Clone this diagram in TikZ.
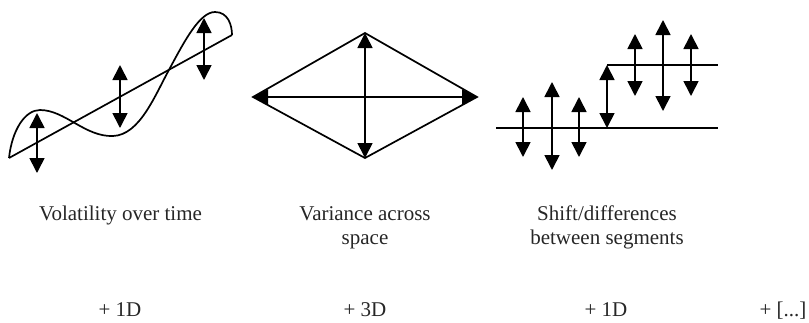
\documentclass[tikz,border=0pt]{standalone}
\usepackage{fontspec}
\setmainfont{Liberation Serif}
\usetikzlibrary{arrows.meta}

\begin{document}
\begin{tikzpicture}[
    x=1pt, y=-1pt,
    stroke/.style={draw=black, line width=1.7pt},
    spread/.style={stroke, {Triangle[length=15pt,width=15pt]}-{Triangle[length=15pt,width=15pt]}},
    lbl/.style={font=\fontsize{21}{23.3}\selectfont, text=black!85, anchor=base, align=center, inner sep=0pt},
  ]
  \useasboundingbox (0,0) rectangle (809,322);

  % ---- volatility over time: trend line, wave, spread round the trend
  \coordinate (trendA) at (9,158);
  \coordinate (trendB) at (232,35);
  \draw[stroke] (trendA) -- (trendB);
  \draw[stroke] (trendA) .. controls (12,130) and (25,110) .. (40,110)
    .. controls (65,110) and (85,137) .. (113,136)
    .. controls (140,135) and (155,95) .. (170,68)
    .. controls (185,40) and (200,12) .. (215,12)
    .. controls (228,12) and (232,25) .. (trendB);
  \foreach \i/\x/\t/\b in {1/37/113/173, 2/120/65/128, 3/204/18/80} {
    \coordinate (volUp\i) at (\x,\t);
    \coordinate (volDn\i) at (\x,\b);
    \draw[spread] (volUp\i) -- (volDn\i);
  }

  % ---- variance across space
  \coordinate (dmW) at (253,97);
  \coordinate (dmN) at (365,33);
  \coordinate (dmE) at (477,97);
  \coordinate (dmS) at (365,158);
  \draw[stroke] (dmW) -- (dmN) -- (dmE) -- (dmS) -- cycle;
  \draw[spread] (dmW) -- (dmE);
  \draw[spread] (dmN) -- (dmS);

  % ---- shift between two segments
  \coordinate (lowA) at (496,128);
  \coordinate (lowB) at (718,128);
  \coordinate (highA) at (607,65);
  \coordinate (highB) at (718,65);
  \draw[stroke] (lowA) -- (lowB);
  \draw[stroke] (highA) -- (highB);
  \draw[spread] (highA) -- (607,128) coordinate (stepFoot);
  \foreach \i/\x/\t/\b in {1/523/97/157, 2/552/82/170, 3/579/97/157,
                           4/635/34/96, 5/663/20/111, 6/691/34/96} {
    \coordinate (segUp\i) at (\x,\t);
    \coordinate (segDn\i) at (\x,\b);
    \draw[spread] (segUp\i) -- (segDn\i);
  }

  % ---- captions (base = last line)
  \node[lbl] (volTxt) at (120.5,220.7) {Volatility over time};
  \node[lbl] (varTxt) at (365,244) {Variance across\\space};
  \node[lbl] (shiftTxt) at (607,244) {Shift/differences\\between segments};

  % ---- dimensions added
  \node[lbl] (dimVol) at (120,316) {+ 1D};
  \node[lbl] (dimVar) at (365,316) {+ 3D};
  \node[lbl] (dimShift) at (606,316) {+ 1D};
  \node[lbl] (dimMore) at (783,316) {+ [...]};
\end{tikzpicture}
\end{document}
